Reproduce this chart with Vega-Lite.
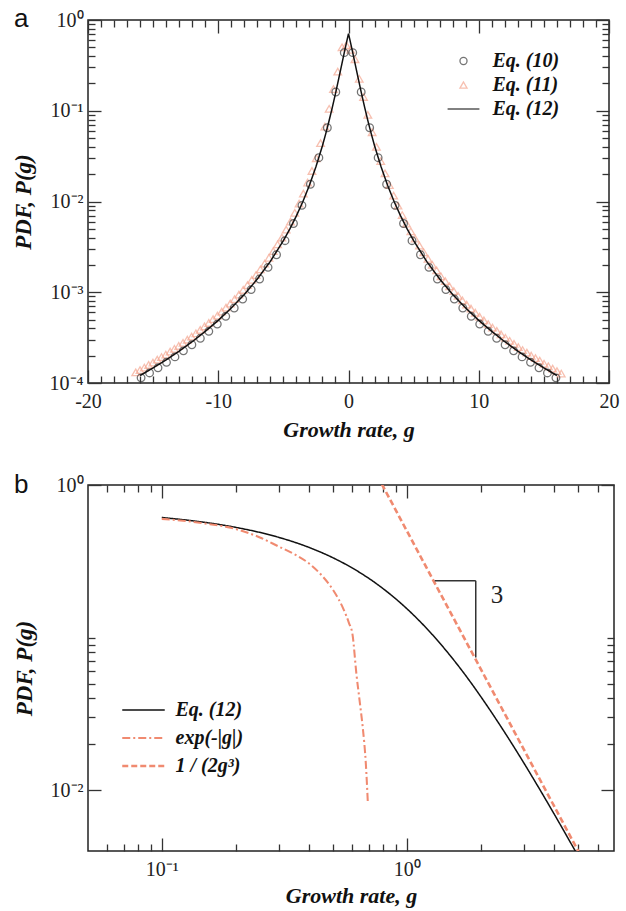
{
  "$schema": "https://vega.github.io/schema/vega-lite/v6.json",
  "background": "white",
  "padding": {"left": 11, "top": 5, "right": 5, "bottom": 5},
  "spacing": 30,
  "config": {
    "view": {"stroke": "#222", "strokeWidth": 1.5},
    "axis": {
      "labelFont": "Liberation Serif", "labelFontSize": 20, "labelColor": "#222",
      "tickColor": "#333", "tickWidth": 1.3, "domain": false, "grid": false,
      "titleFont": "Liberation Serif", "titleFontSize": 22, "titleFontStyle": "italic", "titleFontWeight": "bold", "titleColor": "#111",
      "labelOverlap": false, "labelFlush": false, "labelBound": false, "tickSize": 0
    },
    "legend": {
      "labelFont": "Liberation Serif", "labelFontSize": 20, "labelFontStyle": "italic", "labelFontWeight": "bold", "labelColor": "#111"
    },
    "title": {"font": "Liberation Sans", "fontSize": 26, "fontWeight": "normal", "color": "#111", "anchor": "start", "frame": "group", "offset": 0}
  },
  "resolve": {"scale": {"color": "independent", "shape": "independent", "strokeDash": "independent", "strokeWidth": "independent"}},
  "vconcat": [
    {
      "width": 521, "height": 363,
      "title": {"text": "a", "dx": -74, "dy": 26, "baseline": "top"},
      "layer": [
        {
          "data": {"values": [
            {"g": -16.335, "P": 0.000131, "s": "Eq. (11)"}, {"g": -16.005, "P": 0.000139, "s": "Eq. (11)"}, {"g": -15.675, "P": 0.000148, "s": "Eq. (11)"}, {"g": -15.345, "P": 0.000158, "s": "Eq. (11)"}, {"g": -15.015, "P": 0.000168, "s": "Eq. (11)"},
            {"g": -14.685, "P": 0.000181, "s": "Eq. (11)"}, {"g": -14.355, "P": 0.000193, "s": "Eq. (11)"}, {"g": -14.025, "P": 0.000206, "s": "Eq. (11)"}, {"g": -13.695, "P": 0.000222, "s": "Eq. (11)"}, {"g": -13.365, "P": 0.000238, "s": "Eq. (11)"},
            {"g": -13.035, "P": 0.000256, "s": "Eq. (11)"}, {"g": -12.705, "P": 0.000277, "s": "Eq. (11)"}, {"g": -12.375, "P": 0.000300, "s": "Eq. (11)"}, {"g": -12.045, "P": 0.000324, "s": "Eq. (11)"}, {"g": -11.715, "P": 0.000353, "s": "Eq. (11)"},
            {"g": -11.385, "P": 0.000385, "s": "Eq. (11)"}, {"g": -11.055, "P": 0.000420, "s": "Eq. (11)"}, {"g": -10.725, "P": 0.000459, "s": "Eq. (11)"}, {"g": -10.395, "P": 0.000505, "s": "Eq. (11)"}, {"g": -10.065, "P": 0.000553, "s": "Eq. (11)"},
            {"g": -9.735, "P": 0.000612, "s": "Eq. (11)"}, {"g": -9.405, "P": 0.000679, "s": "Eq. (11)"}, {"g": -9.075, "P": 0.000752, "s": "Eq. (11)"}, {"g": -8.745, "P": 0.000841, "s": "Eq. (11)"}, {"g": -8.415, "P": 0.000943, "s": "Eq. (11)"},
            {"g": -8.085, "P": 0.00106, "s": "Eq. (11)"}, {"g": -7.755, "P": 0.00120, "s": "Eq. (11)"}, {"g": -7.425, "P": 0.00137, "s": "Eq. (11)"}, {"g": -7.095, "P": 0.00155, "s": "Eq. (11)"}, {"g": -6.765, "P": 0.00179, "s": "Eq. (11)"},
            {"g": -6.435, "P": 0.00207, "s": "Eq. (11)"}, {"g": -6.105, "P": 0.00240, "s": "Eq. (11)"}, {"g": -5.775, "P": 0.00284, "s": "Eq. (11)"}, {"g": -5.445, "P": 0.00337, "s": "Eq. (11)"}, {"g": -5.115, "P": 0.0040, "s": "Eq. (11)"},
            {"g": -4.785, "P": 0.0049, "s": "Eq. (11)"}, {"g": -4.455, "P": 0.0060, "s": "Eq. (11)"}, {"g": -4.125, "P": 0.0075, "s": "Eq. (11)"}, {"g": -3.795, "P": 0.0095, "s": "Eq. (11)"}, {"g": -3.465, "P": 0.0122, "s": "Eq. (11)"},
            {"g": -3.135, "P": 0.0162, "s": "Eq. (11)"}, {"g": -2.805, "P": 0.0217, "s": "Eq. (11)"}, {"g": -2.475, "P": 0.030, "s": "Eq. (11)"}, {"g": -2.145, "P": 0.044, "s": "Eq. (11)"}, {"g": -1.815, "P": 0.067, "s": "Eq. (11)"},
            {"g": -1.485, "P": 0.105, "s": "Eq. (11)"}, {"g": -1.155, "P": 0.173, "s": "Eq. (11)"}, {"g": -0.825, "P": 0.27, "s": "Eq. (11)"}, {"g": -0.495, "P": 0.50, "s": "Eq. (11)"}, {"g": -0.165, "P": 0.53, "s": "Eq. (11)"},
            {"g": 0.165, "P": 0.47, "s": "Eq. (11)"}, {"g": 0.495, "P": 0.37, "s": "Eq. (11)"}, {"g": 0.825, "P": 0.225, "s": "Eq. (11)"}, {"g": 1.155, "P": 0.142, "s": "Eq. (11)"}, {"g": 1.485, "P": 0.090, "s": "Eq. (11)"},
            {"g": 1.815, "P": 0.058, "s": "Eq. (11)"}, {"g": 2.145, "P": 0.040, "s": "Eq. (11)"}, {"g": 2.475, "P": 0.0279, "s": "Eq. (11)"}, {"g": 2.805, "P": 0.0204, "s": "Eq. (11)"}, {"g": 3.135, "P": 0.0152, "s": "Eq. (11)"},
            {"g": 3.465, "P": 0.0116, "s": "Eq. (11)"}, {"g": 3.795, "P": 0.0090, "s": "Eq. (11)"}, {"g": 4.125, "P": 0.0071, "s": "Eq. (11)"}, {"g": 4.455, "P": 0.0057, "s": "Eq. (11)"}, {"g": 4.785, "P": 0.0047, "s": "Eq. (11)"},
            {"g": 5.115, "P": 0.0039, "s": "Eq. (11)"}, {"g": 5.445, "P": 0.00326, "s": "Eq. (11)"}, {"g": 5.775, "P": 0.00276, "s": "Eq. (11)"}, {"g": 6.105, "P": 0.00233, "s": "Eq. (11)"}, {"g": 6.435, "P": 0.00201, "s": "Eq. (11)"},
            {"g": 6.765, "P": 0.00174, "s": "Eq. (11)"}, {"g": 7.095, "P": 0.00150, "s": "Eq. (11)"}, {"g": 7.425, "P": 0.00133, "s": "Eq. (11)"}, {"g": 7.755, "P": 0.00116, "s": "Eq. (11)"}, {"g": 8.085, "P": 0.00103, "s": "Eq. (11)"},
            {"g": 8.415, "P": 0.000915, "s": "Eq. (11)"}, {"g": 8.745, "P": 0.000815, "s": "Eq. (11)"}, {"g": 9.075, "P": 0.000730, "s": "Eq. (11)"}, {"g": 9.405, "P": 0.000660, "s": "Eq. (11)"}, {"g": 9.735, "P": 0.000595, "s": "Eq. (11)"},
            {"g": 10.065, "P": 0.000538, "s": "Eq. (11)"}, {"g": 10.395, "P": 0.000490, "s": "Eq. (11)"}, {"g": 10.725, "P": 0.000446, "s": "Eq. (11)"}, {"g": 11.055, "P": 0.000408, "s": "Eq. (11)"}, {"g": 11.385, "P": 0.000375, "s": "Eq. (11)"},
            {"g": 11.715, "P": 0.000343, "s": "Eq. (11)"}, {"g": 12.045, "P": 0.000315, "s": "Eq. (11)"}, {"g": 12.375, "P": 0.000292, "s": "Eq. (11)"}, {"g": 12.705, "P": 0.000270, "s": "Eq. (11)"}, {"g": 13.035, "P": 0.000249, "s": "Eq. (11)"},
            {"g": 13.365, "P": 0.000231, "s": "Eq. (11)"}, {"g": 13.695, "P": 0.000216, "s": "Eq. (11)"}, {"g": 14.025, "P": 0.000200, "s": "Eq. (11)"}, {"g": 14.355, "P": 0.000188, "s": "Eq. (11)"}, {"g": 14.685, "P": 0.000176, "s": "Eq. (11)"},
            {"g": 15.015, "P": 0.000163, "s": "Eq. (11)"}, {"g": 15.345, "P": 0.000153, "s": "Eq. (11)"}, {"g": 15.675, "P": 0.000144, "s": "Eq. (11)"}, {"g": 16.005, "P": 0.000135, "s": "Eq. (11)"}, {"g": 16.335, "P": 0.000127, "s": "Eq. (11)"},
            {"g": -15.925, "P": 0.000114, "s": "Eq. (10)"}, {"g": -15.275, "P": 0.000129, "s": "Eq. (10)"}, {"g": -14.625, "P": 0.000147, "s": "Eq. (10)"}, {"g": -13.975, "P": 0.000169, "s": "Eq. (10)"}, {"g": -13.325, "P": 0.000194, "s": "Eq. (10)"},
            {"g": -12.675, "P": 0.000226, "s": "Eq. (10)"}, {"g": -12.025, "P": 0.000264, "s": "Eq. (10)"}, {"g": -11.375, "P": 0.000311, "s": "Eq. (10)"}, {"g": -10.725, "P": 0.000371, "s": "Eq. (10)"}, {"g": -10.075, "P": 0.000446, "s": "Eq. (10)"},
            {"g": -9.425, "P": 0.000543, "s": "Eq. (10)"}, {"g": -8.775, "P": 0.000671, "s": "Eq. (10)"}, {"g": -8.125, "P": 0.000841, "s": "Eq. (10)"}, {"g": -7.475, "P": 0.00107, "s": "Eq. (10)"}, {"g": -6.825, "P": 0.00140, "s": "Eq. (10)"},
            {"g": -6.175, "P": 0.00188, "s": "Eq. (10)"}, {"g": -5.525, "P": 0.00259, "s": "Eq. (10)"}, {"g": -4.875, "P": 0.00370, "s": "Eq. (10)"}, {"g": -4.225, "P": 0.00572, "s": "Eq. (10)"}, {"g": -3.575, "P": 0.00907, "s": "Eq. (10)"},
            {"g": -2.925, "P": 0.0155, "s": "Eq. (10)"}, {"g": -2.275, "P": 0.0304, "s": "Eq. (10)"}, {"g": -1.625, "P": 0.065, "s": "Eq. (10)"}, {"g": -0.975, "P": 0.161, "s": "Eq. (10)"}, {"g": -0.325, "P": 0.437, "s": "Eq. (10)"},
            {"g": 0.325, "P": 0.437, "s": "Eq. (10)"}, {"g": 0.975, "P": 0.161, "s": "Eq. (10)"}, {"g": 1.625, "P": 0.065, "s": "Eq. (10)"}, {"g": 2.275, "P": 0.0304, "s": "Eq. (10)"}, {"g": 2.925, "P": 0.0155, "s": "Eq. (10)"},
            {"g": 3.575, "P": 0.00907, "s": "Eq. (10)"}, {"g": 4.225, "P": 0.00572, "s": "Eq. (10)"}, {"g": 4.875, "P": 0.00370, "s": "Eq. (10)"}, {"g": 5.525, "P": 0.00259, "s": "Eq. (10)"}, {"g": 6.175, "P": 0.00188, "s": "Eq. (10)"},
            {"g": 6.825, "P": 0.00140, "s": "Eq. (10)"}, {"g": 7.475, "P": 0.00107, "s": "Eq. (10)"}, {"g": 8.125, "P": 0.000841, "s": "Eq. (10)"}, {"g": 8.775, "P": 0.000671, "s": "Eq. (10)"}, {"g": 9.425, "P": 0.000543, "s": "Eq. (10)"},
            {"g": 10.075, "P": 0.000446, "s": "Eq. (10)"}, {"g": 10.725, "P": 0.000371, "s": "Eq. (10)"}, {"g": 11.375, "P": 0.000311, "s": "Eq. (10)"}, {"g": 12.025, "P": 0.000264, "s": "Eq. (10)"}, {"g": 12.675, "P": 0.000226, "s": "Eq. (10)"},
            {"g": 13.325, "P": 0.000194, "s": "Eq. (10)"}, {"g": 13.975, "P": 0.000169, "s": "Eq. (10)"}, {"g": 14.625, "P": 0.000147, "s": "Eq. (10)"}, {"g": 15.275, "P": 0.000129, "s": "Eq. (10)"}, {"g": 15.925, "P": 0.000114, "s": "Eq. (10)"}
          ]},
          "mark": {"type": "point", "filled": false, "size": 58, "strokeWidth": 1.3},
          "encoding": {
            "x": {"field": "g", "type": "quantitative", "scale": {"domain": [-20, 20], "nice": false, "zero": false},
              "axis": {"orient": "bottom", "title": "Growth rate, g", "titlePadding": 8, "labelPadding": 8,
                "values": [-20,-19,-18,-17,-16,-15,-14,-13,-12,-11,-10,-9,-8,-7,-6,-5,-4,-3,-2,-1,0,1,2,3,4,5,6,7,8,9,10,11,12,13,14,15,16,17,18,19,20],
                "labelExpr": "datum.value % 10 == 0 ? '' + datum.value : ''",
                "encoding": {"ticks": {"y2": {"value": {"expr": "datum.value % 10 == 0 ? -13 : -7"}}}}}},
            "y": {"field": "P", "type": "quantitative", "scale": {"type": "log", "domain": [0.0001, 1], "nice": false},
              "axis": {"orient": "left", "title": "PDF, P(g)", "titleFontSize": 23, "titlePadding": 14, "labelPadding": 5,
                "values": [0.0001,0.0002,0.0003,0.0004,0.0005,0.0006,0.0007,0.0008,0.0009,0.001,0.002,0.003,0.004,0.005,0.006,0.007,0.008,0.009,0.01,0.02,0.03,0.04,0.05,0.06,0.07,0.08,0.09,0.1,0.2,0.3,0.4,0.5,0.6,0.7,0.8,0.9,1],
                "labelExpr": "abs(log(datum.value)/LN10 - round(log(datum.value)/LN10)) > 0.001 ? '' : '10' + ['⁰','⁻¹','⁻²','⁻³','⁻⁴'][-round(log(datum.value)/LN10)]",
                "encoding": {"ticks": {"x2": {"value": {"expr": "abs(log(datum.value)/LN10 - round(log(datum.value)/LN10)) < 0.001 ? 13 : 7"}}}}}},
            "shape": {"field": "s", "type": "nominal",
              "scale": {"domain": ["Eq. (10)", "Eq. (11)", "Eq. (12)"], "range": ["circle", "triangle-up", "M-4.5,0H4.5"]},
              "legend": {"orient": "none", "legendX": 365.5, "legendY": 31, "title": null, "symbolSize": 50, "labelOffset": 19, "rowPadding": 4, "padding": 0, "symbolStrokeWidth": 1.3}},
            "color": {"field": "s", "type": "nominal",
              "scale": {"domain": ["Eq. (10)", "Eq. (11)", "Eq. (12)"], "range": ["#3a3a3a", "#f5a690", "#111111"]},
              "legend": {"orient": "none", "legendX": 365.5, "legendY": 31, "title": null, "symbolSize": 50, "labelOffset": 19, "rowPadding": 4, "padding": 0, "symbolStrokeWidth": 1.3}}
          }
        },
        {
          "data": {"values": [
            {"g": -16, "P": 0.000121, "s": "Eq. (12)"}, {"g": -15, "P": 0.000147, "s": "Eq. (12)"}, {"g": -14, "P": 0.000180, "s": "Eq. (12)"}, {"g": -13, "P": 0.000225, "s": "Eq. (12)"},
            {"g": -12, "P": 0.000285, "s": "Eq. (12)"}, {"g": -11, "P": 0.000370, "s": "Eq. (12)"}, {"g": -10, "P": 0.000490, "s": "Eq. (12)"}, {"g": -9, "P": 0.000669, "s": "Eq. (12)"},
            {"g": -8, "P": 0.000947, "s": "Eq. (12)"}, {"g": -7, "P": 0.00140, "s": "Eq. (12)"}, {"g": -6, "P": 0.00219, "s": "Eq. (12)"}, {"g": -5, "P": 0.00370, "s": "Eq. (12)"},
            {"g": -4.5, "P": 0.00499, "s": "Eq. (12)"}, {"g": -4, "P": 0.00694, "s": "Eq. (12)"}, {"g": -3.5, "P": 0.01001, "s": "Eq. (12)"}, {"g": -3, "P": 0.01511, "s": "Eq. (12)"},
            {"g": -2.5, "P": 0.0241, "s": "Eq. (12)"}, {"g": -2, "P": 0.0412, "s": "Eq. (12)"}, {"g": -1.75, "P": 0.0556, "s": "Eq. (12)"}, {"g": -1.5, "P": 0.0765, "s": "Eq. (12)"},
            {"g": -1.25, "P": 0.1077, "s": "Eq. (12)"}, {"g": -1, "P": 0.1547, "s": "Eq. (12)"}, {"g": -0.75, "P": 0.2261, "s": "Eq. (12)"}, {"g": -0.5, "P": 0.3333, "s": "Eq. (12)"},
            {"g": -0.3, "P": 0.4540, "s": "Eq. (12)"}, {"g": -0.1, "P": 0.6124, "s": "Eq. (12)"}, {"g": 0, "P": 0.7071, "s": "Eq. (12)"},
            {"g": 0.1, "P": 0.6124, "s": "Eq. (12)"}, {"g": 0.3, "P": 0.4540, "s": "Eq. (12)"}, {"g": 0.5, "P": 0.3333, "s": "Eq. (12)"}, {"g": 0.75, "P": 0.2261, "s": "Eq. (12)"},
            {"g": 1, "P": 0.1547, "s": "Eq. (12)"}, {"g": 1.25, "P": 0.1077, "s": "Eq. (12)"}, {"g": 1.5, "P": 0.0765, "s": "Eq. (12)"}, {"g": 1.75, "P": 0.0556, "s": "Eq. (12)"},
            {"g": 2, "P": 0.0412, "s": "Eq. (12)"}, {"g": 2.5, "P": 0.0241, "s": "Eq. (12)"}, {"g": 3, "P": 0.01511, "s": "Eq. (12)"}, {"g": 3.5, "P": 0.01001, "s": "Eq. (12)"},
            {"g": 4, "P": 0.00694, "s": "Eq. (12)"}, {"g": 4.5, "P": 0.00499, "s": "Eq. (12)"}, {"g": 5, "P": 0.00370, "s": "Eq. (12)"}, {"g": 6, "P": 0.00219, "s": "Eq. (12)"},
            {"g": 7, "P": 0.00140, "s": "Eq. (12)"}, {"g": 8, "P": 0.000947, "s": "Eq. (12)"}, {"g": 9, "P": 0.000669, "s": "Eq. (12)"}, {"g": 10, "P": 0.000490, "s": "Eq. (12)"},
            {"g": 11, "P": 0.000370, "s": "Eq. (12)"}, {"g": 12, "P": 0.000285, "s": "Eq. (12)"}, {"g": 13, "P": 0.000225, "s": "Eq. (12)"}, {"g": 14, "P": 0.000180, "s": "Eq. (12)"},
            {"g": 15, "P": 0.000147, "s": "Eq. (12)"}, {"g": 16, "P": 0.000121, "s": "Eq. (12)"}
          ]},
          "mark": {"type": "line", "strokeWidth": 1.5},
          "encoding": {
            "x": {"field": "g", "type": "quantitative", "scale": {"domain": [-20, 20], "nice": false, "zero": false},
              "axis": {"orient": "top", "title": null, "labels": false,
                "values": [-20,-19,-18,-17,-16,-15,-14,-13,-12,-11,-10,-9,-8,-7,-6,-5,-4,-3,-2,-1,0,1,2,3,4,5,6,7,8,9,10,11,12,13,14,15,16,17,18,19,20],
                "encoding": {"ticks": {"y2": {"value": {"expr": "datum.value % 10 == 0 ? 13 : 7"}}}}}},
            "y": {"field": "P", "type": "quantitative", "scale": {"type": "log", "domain": [0.0001, 1], "nice": false},
              "axis": {"orient": "right", "title": null, "labels": false,
                "values": [0.0001,0.0002,0.0003,0.0004,0.0005,0.0006,0.0007,0.0008,0.0009,0.001,0.002,0.003,0.004,0.005,0.006,0.007,0.008,0.009,0.01,0.02,0.03,0.04,0.05,0.06,0.07,0.08,0.09,0.1,0.2,0.3,0.4,0.5,0.6,0.7,0.8,0.9,1],
                "encoding": {"ticks": {"x2": {"value": {"expr": "abs(log(datum.value)/LN10 - round(log(datum.value)/LN10)) < 0.001 ? -13 : -7"}}}}}},
            "color": {"field": "s", "type": "nominal", "scale": {"domain": ["Eq. (10)", "Eq. (11)", "Eq. (12)"], "range": ["#3a3a3a", "#f5a690", "#111111"]}}
          }
        }
      ],
      "resolve": {"axis": {"x": "independent", "y": "independent"}}
    },
    {
      "width": 526, "height": 366,
      "title": {"text": "b", "dx": -74, "dy": 27, "baseline": "top"},
      "layer": [
        {
          "data": {"values": [
            {"g": 0.1, "P": 0.6124, "c": "Eq. (12)"}, {"g": 0.15, "P": 0.569, "c": "Eq. (12)"}, {"g": 0.2, "P": 0.5281, "c": "Eq. (12)"}, {"g": 0.3, "P": 0.4540, "c": "Eq. (12)"},
            {"g": 0.4, "P": 0.3893, "c": "Eq. (12)"}, {"g": 0.5, "P": 0.3333, "c": "Eq. (12)"}, {"g": 0.6, "P": 0.2853, "c": "Eq. (12)"}, {"g": 0.75, "P": 0.2261, "c": "Eq. (12)"},
            {"g": 1, "P": 0.1547, "c": "Eq. (12)"}, {"g": 1.25, "P": 0.1077, "c": "Eq. (12)"}, {"g": 1.5, "P": 0.0765, "c": "Eq. (12)"}, {"g": 1.75, "P": 0.0556, "c": "Eq. (12)"},
            {"g": 2, "P": 0.0412, "c": "Eq. (12)"}, {"g": 2.5, "P": 0.0241, "c": "Eq. (12)"}, {"g": 3, "P": 0.01511, "c": "Eq. (12)"}, {"g": 3.5, "P": 0.01001, "c": "Eq. (12)"},
            {"g": 4, "P": 0.00694, "c": "Eq. (12)"}, {"g": 4.5, "P": 0.00499, "c": "Eq. (12)"}, {"g": 5, "P": 0.00370, "c": "Eq. (12)"},
            {"g": 0.1, "P": 0.600, "c": "exp(-|g|)"}, {"g": 0.15, "P": 0.560, "c": "exp(-|g|)"}, {"g": 0.2, "P": 0.515, "c": "exp(-|g|)"}, {"g": 0.25, "P": 0.455, "c": "exp(-|g|)"},
            {"g": 0.3, "P": 0.395, "c": "exp(-|g|)"}, {"g": 0.35, "P": 0.350, "c": "exp(-|g|)"}, {"g": 0.4, "P": 0.305, "c": "exp(-|g|)"}, {"g": 0.45, "P": 0.255, "c": "exp(-|g|)"},
            {"g": 0.5, "P": 0.205, "c": "exp(-|g|)"}, {"g": 0.55, "P": 0.155, "c": "exp(-|g|)"}, {"g": 0.58, "P": 0.125, "c": "exp(-|g|)"}, {"g": 0.6, "P": 0.105, "c": "exp(-|g|)"},
            {"g": 0.623, "P": 0.057, "c": "exp(-|g|)"}, {"g": 0.645, "P": 0.036, "c": "exp(-|g|)"}, {"g": 0.662, "P": 0.025, "c": "exp(-|g|)"}, {"g": 0.68, "P": 0.015, "c": "exp(-|g|)"},
            {"g": 0.693, "P": 0.0083, "c": "exp(-|g|)"},
            {"g": 0.79, "P": 1.014, "c": "1 / (2g³)"}, {"g": 1, "P": 0.5, "c": "1 / (2g³)"}, {"g": 1.5, "P": 0.148, "c": "1 / (2g³)"}, {"g": 2, "P": 0.0625, "c": "1 / (2g³)"},
            {"g": 3, "P": 0.0185, "c": "1 / (2g³)"}, {"g": 4, "P": 0.0078, "c": "1 / (2g³)"}, {"g": 5, "P": 0.004, "c": "1 / (2g³)"}, {"g": 5.1, "P": 0.00377, "c": "1 / (2g³)"}
          ]},
          "mark": {"type": "line", "clip": true, "interpolate": "monotone"},
          "encoding": {
            "x": {"field": "g", "type": "quantitative", "scale": {"type": "log", "domain": [0.05, 7], "nice": false},
              "axis": {"orient": "bottom", "title": "Growth rate, g", "titlePadding": 6, "labelPadding": 8,
                "values": [0.06,0.07,0.08,0.09,0.1,0.2,0.3,0.4,0.5,0.6,0.7,0.8,0.9,1,2,3,4,5,6],
                "labelExpr": "datum.value == 0.1 ? '10⁻¹' : datum.value == 1 ? '10⁰' : ''",
                "encoding": {"ticks": {"y2": {"value": {"expr": "datum.value == 0.1 || datum.value == 1 ? -13 : -7"}}}}}},
            "y": {"field": "P", "type": "quantitative", "scale": {"type": "log", "domain": [0.004, 1], "nice": false},
              "axis": {"orient": "left", "title": "PDF, P(g)", "titleFontSize": 23, "titlePadding": 14, "labelPadding": 5,
                "values": [0.01,0.02,0.03,0.04,0.05,0.06,0.07,0.08,0.09,0.1,1],
                "labelExpr": "datum.value == 1 ? '10⁰' : datum.value == 0.01 ? '10⁻²' : ''",
                "encoding": {"ticks": {"x2": {"value": {"expr": "datum.value == 1 || datum.value == 0.01 ? 13 : 7"}}}}}},
            "color": {"field": "c", "type": "nominal",
              "scale": {"domain": ["Eq. (12)", "exp(-|g|)", "1 / (2g³)"], "range": ["#111111", "#f08a70", "#f08a70"]},
              "legend": {"orient": "none", "legendX": 45.5, "legendY": 215, "title": null, "symbolType": "M-2.5,0H2.5", "symbolSize": 289, "labelOffset": 22, "rowPadding": 8, "padding": 0, "symbolStrokeWidth": 2}},
            "strokeDash": {"field": "c", "type": "nominal",
              "scale": {"domain": ["Eq. (12)", "exp(-|g|)", "1 / (2g³)"], "range": [[1, 0], [8, 3, 2, 3], [6, 3]]},
              "legend": {"orient": "none", "legendX": 45.5, "legendY": 215, "title": null, "symbolType": "M-2.5,0H2.5", "symbolSize": 289, "labelOffset": 22, "rowPadding": 8, "padding": 0, "symbolStrokeWidth": 2}},
            "strokeWidth": {"field": "c", "type": "nominal",
              "scale": {"domain": ["Eq. (12)", "exp(-|g|)", "1 / (2g³)"], "range": [1.5, 2.6, 2.6]}, "legend": null}
          }
        },
        {
          "data": {"values": [
            {"x": 1.30, "x2": 1.91, "y": 0.236, "y2": 0.236},
            {"x": 1.91, "x2": 1.91, "y": 0.236, "y2": 0.074}
          ]},
          "mark": {"type": "rule", "color": "#333", "strokeWidth": 1.5},
          "encoding": {
            "x": {"field": "x", "type": "quantitative", "scale": {"type": "log", "domain": [0.05, 7], "nice": false},
              "axis": {"orient": "top", "title": null, "labels": false,
                "values": [0.06,0.07,0.08,0.09,0.1,0.2,0.3,0.4,0.5,0.6,0.7,0.8,0.9,1,2,3,4,5,6],
                "encoding": {"ticks": {"y2": {"value": {"expr": "datum.value == 0.1 || datum.value == 1 ? 13 : 7"}}}}}},
            "x2": {"field": "x2"},
            "y": {"field": "y", "type": "quantitative", "scale": {"type": "log", "domain": [0.004, 1], "nice": false},
              "axis": {"orient": "right", "title": null, "labels": false,
                "values": [0.01,0.02,0.03,0.04,0.05,0.06,0.07,0.08,0.09,0.1,1],
                "encoding": {"ticks": {"x2": {"value": {"expr": "datum.value == 1 || datum.value == 0.01 ? -13 : -7"}}}}}},
            "y2": {"field": "y2"}
          }
        },
        {
          "data": {"values": [{"x": 2.2, "y": 0.19, "t": "3"}]},
          "mark": {"type": "text", "font": "Liberation Serif", "fontSize": 25, "align": "left", "baseline": "middle", "color": "#222"},
          "encoding": {
            "x": {"field": "x", "type": "quantitative", "axis": null},
            "y": {"field": "y", "type": "quantitative", "axis": null},
            "text": {"field": "t"}
          }
        }
      ],
      "resolve": {"axis": {"x": "independent", "y": "independent"}}
    }
  ]
}
